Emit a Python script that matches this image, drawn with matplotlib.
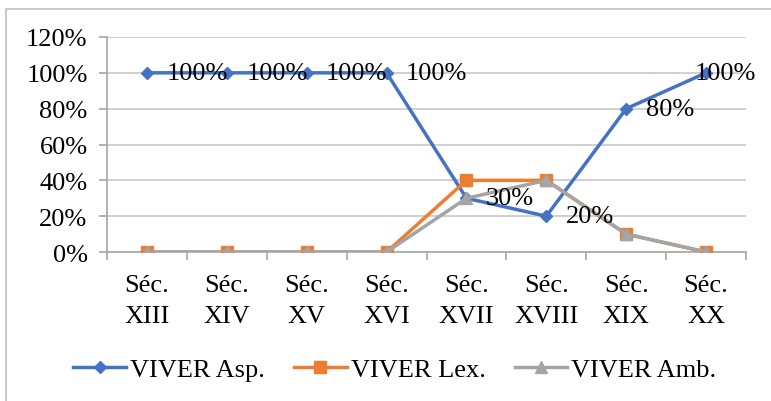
import matplotlib
matplotlib.use("Agg")
from matplotlib import pyplot as plt
from matplotlib.patches import Rectangle
import numpy as np

categories = ["Séc.\nXIII", "Séc.\nXIV", "Séc.\nXV", "Séc.\nXVI",
              "Séc.\nXVII", "Séc.\nXVIII", "Séc.\nXIX", "Séc.\nXX"]
asp = [100, 100, 100, 100, 30, 20, 80, 100]
lex = [0, 0, 0, 0, 40, 40, 10, 0]
amb = [0, 0, 0, 0, 30, 40, 10, 0]
yticks = [0, 20, 40, 60, 80, 100, 120]

plt.rcParams['font.family'] = ['Liberation Serif', 'DejaVu Serif']
fs = 19

fig = plt.figure(figsize=(7.71, 4.02), dpi=100)
ax = fig.add_axes([0.1388, 0.3706, 0.9676 - 0.1388, 0.9055 - 0.3706])

# outer chart border (cut off at right and bottom like the screenshot)
top = 1 - 10 / 402
fig.patches.append(Rectangle((6 / 771, -0.2), 1.2, top + 0.2,
                             transform=fig.transFigure, fill=False,
                             edgecolor='#bfbfbf', lw=1.2))

x = np.arange(len(categories))
ax.plot(x, asp, color='#4472C4', lw=2.5, marker='D', ms=6.5, label='VIVER Asp.', zorder=3)
ax.plot(x, lex, color='#ED7D31', lw=2.5, marker='s', ms=8, label='VIVER Lex.', zorder=4)
ax.plot(x, amb, color='#A5A5A5', lw=2.5, marker='^', ms=9, label='VIVER Amb.', zorder=5)

for i, (xi, v) in enumerate(zip(x, asp)):
    if i == len(asp) - 1:
        # last label is pushed back inside the chart area
        ax.annotate(f"{v}%", (xi, v), xytext=(36, 0), textcoords='offset points',
                    ha='right', va='center', fontsize=fs, zorder=6)
    else:
        ax.annotate(f"{v}%", (xi, v), xytext=(14, 0), textcoords='offset points',
                    ha='left', va='center', fontsize=fs, zorder=6)

ax.set_xlim(-0.5, len(categories) - 0.5)
ax.set_ylim(0, 120)
ax.set_yticks(yticks)
ax.set_yticklabels([f"{t}%" for t in yticks], fontsize=fs)
ax.yaxis.grid(True, color='#c8c8c8', lw=1.2)
ax.set_axisbelow(True)

ax.set_xticks(np.arange(-0.5, len(categories)))
ax.set_xticklabels([])
ax.set_xticks(x, minor=True)
ax.set_xticklabels(categories, minor=True, fontsize=fs, linespacing=1.5)
ax.tick_params(axis='x', which='minor', length=0, pad=16)
ax.tick_params(axis='x', which='major', length=6, color='#a6a6a6', width=1.2, direction='out')
ax.tick_params(axis='y', length=6, color='#a6a6a6', width=1.2, pad=8)

for s in ['top', 'right']:
    ax.spines[s].set_visible(False)
for s in ['left', 'bottom']:
    ax.spines[s].set_color('#a6a6a6')
    ax.spines[s].set_linewidth(1.2)

fig.legend(loc='center', bbox_to_anchor=(395 / 771, 1 - 370 / 402), ncol=3,
           frameon=False, fontsize=fs, handlelength=2.0, handletextpad=0.15,
           columnspacing=1.1)

fig.savefig("out.png", dpi=100)
